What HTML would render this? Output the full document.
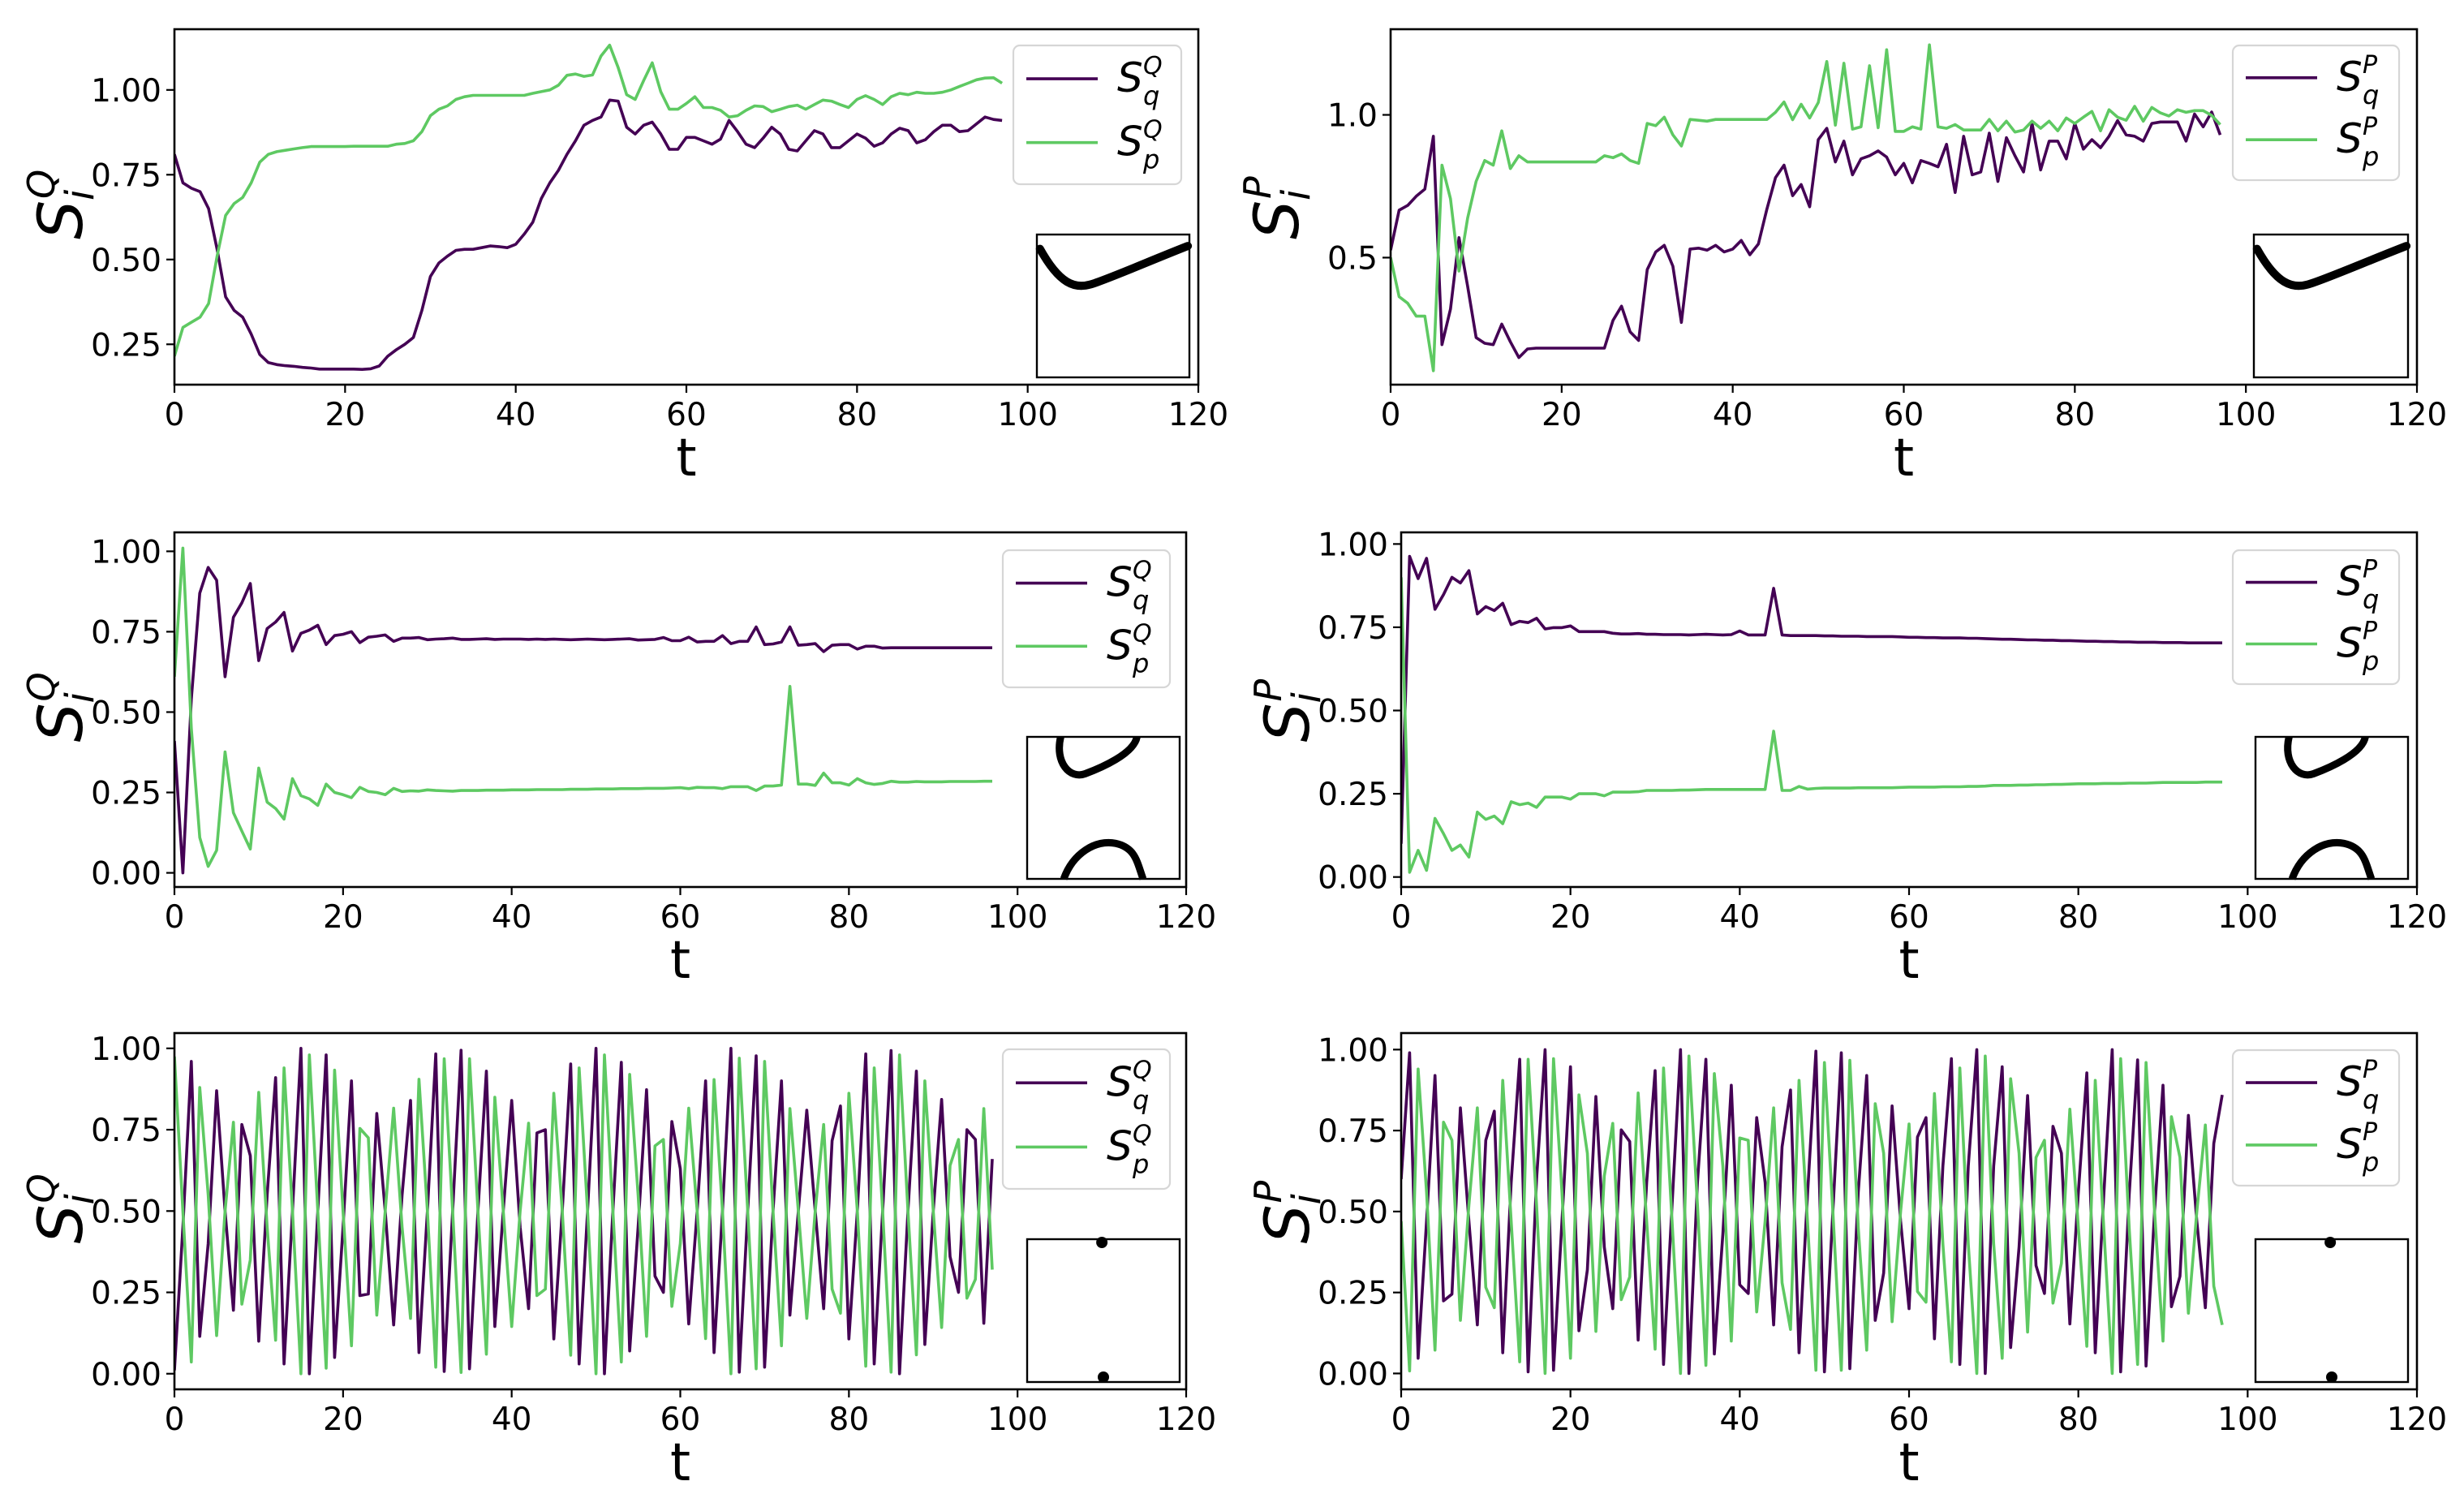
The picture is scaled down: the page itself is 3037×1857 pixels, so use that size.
<!DOCTYPE html>
<html><head><meta charset="utf-8"><style>
html,body{margin:0;padding:0;background:#fff;}
svg{display:block;font-family:"DejaVu Sans","Liberation Sans",sans-serif;}
</style></head><body>
<svg id="fig" width="3037" height="1857" viewBox="0 0 3037 1857" xmlns="http://www.w3.org/2000/svg"></svg>
<script>
// ---- data (t = index 0..97) ----
const xTicks = [0,20,40,60,80,100,120];
const ticksQtop = [0.25,0.50,0.75,1.00];
const ticksPtop = [0.5,1.0];
const ticksUnit = [0.00,0.25,0.50,0.75,1.00];

const tlSq = [0.81,0.726,0.71,0.70,0.65,0.53,0.39,0.35,0.33,0.28,0.22,0.196,0.19,0.187,0.185,0.182,0.18,0.177,0.177,0.177,0.177,0.177,0.176,0.178,0.186,0.215,0.234,0.25,0.27,0.35,0.45,0.49,0.51,0.527,0.53,0.53,0.535,0.54,0.538,0.535,0.545,0.575,0.61,0.68,0.726,0.763,0.81,0.85,0.896,0.91,0.92,0.97,0.967,0.89,0.87,0.896,0.905,0.87,0.825,0.825,0.86,0.86,0.85,0.84,0.855,0.91,0.877,0.84,0.83,0.858,0.89,0.87,0.825,0.82,0.85,0.88,0.87,0.83,0.83,0.85,0.87,0.858,0.834,0.844,0.87,0.887,0.88,0.844,0.853,0.877,0.896,0.896,0.877,0.88,0.9,0.92,0.913,0.91];
const tlSp = [0.215,0.30,0.315,0.33,0.37,0.51,0.63,0.665,0.683,0.726,0.787,0.81,0.818,0.822,0.826,0.83,0.833,0.833,0.833,0.833,0.833,0.834,0.834,0.834,0.834,0.834,0.84,0.842,0.85,0.877,0.924,0.943,0.953,0.972,0.98,0.984,0.984,0.984,0.984,0.984,0.984,0.984,0.99,0.995,1.0,1.014,1.043,1.047,1.04,1.044,1.1,1.132,1.066,0.986,0.972,1.028,1.08,0.995,0.943,0.943,0.96,0.98,0.948,0.948,0.94,0.92,0.924,0.94,0.953,0.951,0.936,0.943,0.951,0.955,0.943,0.957,0.97,0.967,0.957,0.948,0.972,0.983,0.972,0.957,0.98,0.99,0.986,0.993,0.99,0.99,0.993,1.0,1.01,1.02,1.03,1.035,1.036,1.02];

const trSq = [0.526,0.666,0.683,0.715,0.74,0.925,0.195,0.32,0.57,0.4,0.22,0.2,0.195,0.267,0.205,0.15,0.18,0.183,0.183,0.183,0.183,0.183,0.183,0.183,0.183,0.183,0.28,0.33,0.24,0.21,0.458,0.52,0.543,0.47,0.273,0.53,0.533,0.526,0.543,0.52,0.53,0.56,0.51,0.548,0.67,0.78,0.824,0.717,0.756,0.678,0.913,0.953,0.835,0.908,0.79,0.846,0.857,0.874,0.852,0.79,0.83,0.762,0.84,0.83,0.818,0.897,0.728,0.925,0.79,0.8,0.936,0.767,0.92,0.857,0.8,0.97,0.807,0.908,0.908,0.846,0.97,0.88,0.913,0.885,0.925,0.98,0.93,0.925,0.908,0.97,0.975,0.975,0.975,0.908,1.003,0.958,1.01,0.93];
const trSp = [0.5,0.363,0.34,0.295,0.295,0.104,0.824,0.706,0.453,0.638,0.767,0.84,0.824,0.944,0.812,0.857,0.835,0.835,0.835,0.835,0.835,0.835,0.835,0.835,0.835,0.857,0.85,0.863,0.84,0.83,0.97,0.962,0.992,0.93,0.891,0.984,0.981,0.978,0.984,0.984,0.984,0.984,0.984,0.984,0.984,1.009,1.045,0.983,1.037,0.989,1.043,1.187,0.964,1.181,0.95,0.958,1.172,0.955,1.228,0.942,0.942,0.958,0.95,1.245,0.958,0.953,0.966,0.947,0.947,0.947,0.984,0.944,0.978,0.94,0.947,0.978,0.953,0.978,0.944,0.989,0.97,0.992,1.012,0.944,1.018,0.992,0.981,1.03,0.978,1.026,1.007,0.996,1.018,1.009,1.015,1.015,0.998,0.966];

const mlSq = [0.41,0.0,0.54,0.87,0.95,0.91,0.61,0.795,0.84,0.9,0.66,0.76,0.78,0.81,0.69,0.745,0.755,0.77,0.71,0.738,0.742,0.75,0.716,0.733,0.736,0.74,0.72,0.73,0.73,0.732,0.725,0.727,0.728,0.73,0.726,0.726,0.727,0.728,0.726,0.727,0.727,0.727,0.726,0.727,0.726,0.727,0.726,0.725,0.726,0.727,0.726,0.725,0.726,0.727,0.728,0.724,0.725,0.726,0.732,0.722,0.722,0.733,0.718,0.72,0.72,0.738,0.713,0.72,0.72,0.765,0.71,0.712,0.718,0.765,0.708,0.71,0.713,0.688,0.708,0.71,0.71,0.696,0.705,0.705,0.699,0.70,0.70,0.70,0.70,0.70,0.70,0.70,0.70,0.70,0.70,0.70,0.70,0.70];
const mlSp = [0.61,1.01,0.45,0.11,0.02,0.07,0.376,0.187,0.13,0.074,0.326,0.22,0.2,0.167,0.293,0.24,0.23,0.21,0.276,0.25,0.243,0.234,0.266,0.253,0.25,0.243,0.263,0.253,0.255,0.254,0.258,0.256,0.255,0.254,0.256,0.256,0.256,0.257,0.257,0.257,0.258,0.258,0.258,0.259,0.259,0.259,0.259,0.26,0.26,0.26,0.261,0.261,0.261,0.262,0.262,0.262,0.263,0.263,0.263,0.264,0.265,0.262,0.266,0.265,0.265,0.262,0.268,0.268,0.268,0.256,0.27,0.27,0.273,0.58,0.276,0.276,0.272,0.31,0.28,0.28,0.273,0.293,0.28,0.275,0.278,0.285,0.282,0.282,0.284,0.283,0.283,0.283,0.284,0.284,0.284,0.284,0.285,0.285];

const mrSq = [0.1,0.963,0.896,0.957,0.804,0.848,0.9,0.883,0.92,0.79,0.812,0.8,0.822,0.758,0.768,0.764,0.777,0.745,0.749,0.749,0.754,0.737,0.737,0.737,0.737,0.732,0.73,0.73,0.731,0.729,0.729,0.728,0.728,0.728,0.727,0.728,0.729,0.728,0.727,0.728,0.739,0.727,0.727,0.727,0.867,0.727,0.725,0.725,0.725,0.725,0.724,0.724,0.723,0.723,0.723,0.722,0.722,0.722,0.722,0.721,0.72,0.72,0.719,0.719,0.718,0.718,0.718,0.717,0.717,0.716,0.715,0.714,0.714,0.713,0.712,0.712,0.711,0.711,0.71,0.71,0.709,0.708,0.708,0.707,0.707,0.706,0.706,0.705,0.705,0.705,0.704,0.704,0.704,0.703,0.703,0.703,0.703,0.703];
const mrSp = [0.9,0.014,0.08,0.02,0.176,0.13,0.08,0.096,0.06,0.195,0.173,0.183,0.16,0.226,0.217,0.222,0.209,0.24,0.24,0.24,0.234,0.25,0.25,0.25,0.244,0.255,0.255,0.255,0.256,0.26,0.26,0.26,0.26,0.261,0.261,0.262,0.263,0.263,0.263,0.263,0.263,0.263,0.263,0.263,0.438,0.26,0.26,0.272,0.264,0.266,0.267,0.267,0.267,0.267,0.268,0.268,0.268,0.268,0.268,0.269,0.27,0.27,0.27,0.27,0.271,0.271,0.271,0.272,0.272,0.273,0.275,0.275,0.275,0.276,0.276,0.277,0.277,0.278,0.278,0.279,0.28,0.28,0.28,0.281,0.281,0.281,0.282,0.282,0.282,0.283,0.284,0.284,0.284,0.284,0.284,0.285,0.285,0.285];

const blSq = [0.01,0.45,0.96,0.115,0.4,0.87,0.5,0.195,0.766,0.67,0.10,0.55,0.91,0.03,0.5,1.0,0.0,0.5,0.98,0.05,0.45,0.9,0.24,0.245,0.80,0.5,0.15,0.55,0.84,0.065,0.5,0.983,0.007,0.5,0.994,0.015,0.5,0.93,0.145,0.5,0.84,0.45,0.2,0.74,0.75,0.107,0.5,0.952,0.03,0.5,1.0,0.0,0.5,0.957,0.07,0.45,0.873,0.3,0.25,0.775,0.63,0.153,0.5,0.9,0.065,0.5,1.0,0.005,0.5,0.977,0.02,0.5,0.9,0.18,0.5,0.81,0.5,0.2,0.716,0.823,0.107,0.5,0.983,0.03,0.5,0.993,0.0,0.5,0.93,0.09,0.5,0.843,0.36,0.25,0.75,0.72,0.155,0.66];
const blSp = [0.975,0.5,0.036,0.88,0.55,0.117,0.5,0.773,0.214,0.35,0.865,0.45,0.103,0.94,0.5,0.0,0.98,0.5,0.017,0.933,0.5,0.086,0.754,0.725,0.18,0.5,0.816,0.45,0.17,0.905,0.5,0.02,0.968,0.5,0.004,0.968,0.5,0.06,0.85,0.5,0.145,0.5,0.77,0.24,0.26,0.862,0.5,0.057,0.94,0.5,0.0,0.98,0.5,0.036,0.92,0.55,0.115,0.7,0.72,0.207,0.4,0.816,0.5,0.108,0.904,0.5,0.0,0.97,0.5,0.015,0.96,0.5,0.086,0.815,0.5,0.17,0.5,0.766,0.26,0.186,0.862,0.5,0.023,0.94,0.5,0.005,0.98,0.5,0.058,0.9,0.5,0.142,0.64,0.72,0.232,0.29,0.815,0.32];

const brSq = [0.6,0.99,0.047,0.47,0.92,0.224,0.245,0.82,0.47,0.15,0.72,0.81,0.064,0.59,0.97,0.005,0.6,1.0,0.01,0.47,0.947,0.132,0.32,0.855,0.39,0.2,0.752,0.716,0.103,0.59,0.935,0.028,0.52,1.0,0.0,0.59,0.97,0.06,0.43,0.89,0.274,0.247,0.79,0.59,0.15,0.70,0.875,0.064,0.55,0.995,0.005,0.5,0.99,0.015,0.56,0.92,0.164,0.31,0.826,0.47,0.2,0.73,0.79,0.107,0.64,0.972,0.028,0.64,1.0,0.0,0.64,0.947,0.08,0.39,0.858,0.333,0.247,0.763,0.68,0.153,0.56,0.928,0.064,0.55,1.0,0.005,0.55,0.968,0.023,0.5,0.89,0.206,0.3,0.797,0.47,0.203,0.71,0.86];
const brSp = [0.47,0.008,0.94,0.56,0.072,0.776,0.72,0.164,0.52,0.82,0.266,0.203,0.905,0.47,0.036,0.97,0.52,0.0,0.972,0.56,0.047,0.86,0.68,0.13,0.61,0.772,0.228,0.298,0.866,0.47,0.075,0.943,0.47,0.0,0.98,0.52,0.025,0.926,0.64,0.1,0.727,0.72,0.19,0.47,0.82,0.28,0.136,0.905,0.47,0.01,0.96,0.5,0.01,0.967,0.45,0.072,0.833,0.68,0.16,0.5,0.77,0.253,0.22,0.864,0.4,0.036,0.943,0.4,0.0,0.98,0.4,0.047,0.91,0.68,0.128,0.667,0.72,0.217,0.34,0.816,0.45,0.084,0.905,0.45,0.0,0.972,0.45,0.028,0.96,0.5,0.1,0.793,0.667,0.186,0.5,0.767,0.27,0.15];

// ---- drawing ----
const NS = 'http://www.w3.org/2000/svg';
const fig = document.getElementById('fig');
const PURPLE = '#440154', GREEN = '#5ec962';
function mk(tag, attrs, parent){
  const e = document.createElementNS(NS, tag);
  for (const k in attrs) e.setAttribute(k, attrs[k]);
  (parent||fig).appendChild(e);
  return e;
}
const panels = [
  {id:'top-left', x0:215,x1:1477,y0:36,y1:474, ymin:0.131,ymax:1.179, ticks:ticksQtop, dec:2, sup:'Q', q:tlSq, p:tlSp, leg:[1249,56,1456,227], inset:[1278,289,1466,465], kind:'curve'},
  {id:'top-right', x0:1714,x1:2979,y0:36,y1:474, ymin:0.055,ymax:1.300, ticks:ticksPtop, dec:1, sup:'P', q:trSq, p:trSp, leg:[2752,56,2957,222], inset:[2778,289,2968,465], kind:'curve'},
  {id:'middle-left', x0:215,x1:1462,y0:656,y1:1093, ymin:-0.044,ymax:1.059, ticks:ticksUnit, dec:2, sup:'Q', q:mlSq, p:mlSp, leg:[1236,678,1442,847], inset:[1266,908,1454,1083], kind:'arcs'},
  {id:'middle-right', x0:1727,x1:2979,y0:656,y1:1093, ymin:-0.030,ymax:1.035, ticks:ticksUnit, dec:2, sup:'P', q:mrSq, p:mrSp, leg:[2752,678,2957,843], inset:[2780,908,2968,1083], kind:'arcs'},
  {id:'bottom-left', x0:215,x1:1462,y0:1273,y1:1712, ymin:-0.048,ymax:1.047, ticks:ticksUnit, dec:2, sup:'Q', q:blSq, p:blSp, leg:[1236,1293,1442,1465], inset:[1266,1527,1454,1703], kind:'dots'},
  {id:'bottom-right', x0:1727,x1:2979,y0:1273,y1:1712, ymin:-0.049,ymax:1.051, ticks:ticksUnit, dec:2, sup:'P', q:brSq, p:brSp, leg:[2752,1294,2957,1461], inset:[2780,1527,2968,1703], kind:'dots'}
];

function drawPanel(P){
  const g = mk('g', {});
  
  
  const sx = t => P.x0 + (t/120)*(P.x1-P.x0);
  const sy = v => P.y1 - (v-P.ymin)/(P.ymax-P.ymin)*(P.y1-P.y0);
  const cid = 'clip-' + P.id;
  const cp = mk('clipPath', {id:cid}, g);
  mk('rect', {x:P.x0, y:P.y0, width:P.x1-P.x0, height:P.y1-P.y0}, cp);
  [[P.q, PURPLE, 'sq'], [P.p, GREEN, 'sp']].forEach(([arr, col, nm]) => {
    const d = arr.map((v,i) => (i?'L':'M') + sx(i).toFixed(1) + ' ' + sy(v).toFixed(1)).join(' ');
    const path = mk('path', {d:d, fill:'none', stroke:col, 'stroke-width':3.6, 'stroke-linejoin':'round', 'clip-path':'url(#'+cid+')'}, g);
    
    
  });
  const fr = mk('rect', {x:P.x0, y:P.y0, width:P.x1-P.x0, height:P.y1-P.y0, fill:'none', stroke:'#000', 'stroke-width':2.6}, g);
  
  
  xTicks.forEach(t => {
    const x = sx(t);
    mk('line', {x1:x, y1:P.y1, x2:x, y2:P.y1+10, stroke:'#000', 'stroke-width':2.2}, g);
    const tx = mk('text', {x:x, y:P.y1+50, 'font-size':39, 'text-anchor':'middle', fill:'#000'}, g);
    tx.textContent = String(t);
    
    
  });
  P.ticks.forEach(v => {
    const y = sy(v);
    mk('line', {x1:P.x0-10, y1:y, x2:P.x0, y2:y, stroke:'#000', 'stroke-width':2.2}, g);
    const ty = mk('text', {x:P.x0-16, y:y+14, 'font-size':39, 'text-anchor':'end', fill:'#000'}, g);
    ty.textContent = v.toFixed(P.dec);
    
    
  });
  const xl = mk('text', {x:(P.x0+P.x1)/2, y:P.y1+112, 'font-size':64, 'text-anchor':'middle', fill:'#000'}, g);
  xl.textContent = 't';
  
  
  const cy = (P.y0+P.y1)/2;
  const lx = P.x0 - 140;
  const yl = mk('g', {transform:'translate('+lx+','+cy+') rotate(-90)'}, g);
  
  
  const s1 = mk('text', {x:-40, y:26, 'font-size':76, 'font-style':'italic', fill:'#000'}, yl); s1.textContent='S';
  const s2 = mk('text', {x:8, y:40, 'font-size':48, 'font-style':'italic', fill:'#000'}, yl); s2.textContent='i';
  const s3 = mk('text', {x:10, y:-8, 'font-size':46, 'font-style':'italic', fill:'#000'}, yl); s3.textContent=P.sup;
  const [lx0,ly0,lx1,ly1] = P.leg;
  const lg = mk('g', {}, g);
  
  
  mk('rect', {x:lx0, y:ly0, width:lx1-lx0, height:ly1-ly0, rx:8, fill:'#fff', 'fill-opacity':0.85, stroke:'#d6d6d6', 'stroke-width':2.2}, lg);
  [['q', PURPLE, 0.24], ['p', GREEN, 0.70]].forEach(([sub, col, f]) => {
    const yy = ly0 + f*(ly1-ly0);
    const e = mk('g', {}, lg);
    
    
    mk('line', {x1:lx0+16, y1:yy, x2:lx0+104, y2:yy, stroke:col, 'stroke-width':3.6}, e);
    const a = mk('text', {x:lx0+128, y:yy+16, 'font-size':50, 'font-style':'italic', fill:'#000'}, e); a.textContent='S';
    const b = mk('text', {x:lx0+160, y:yy+32, 'font-size':32, 'font-style':'italic', fill:'#000'}, e); b.textContent=sub;
    const c = mk('text', {x:lx0+160, y:yy-6, 'font-size':30, 'font-style':'italic', fill:'#000'}, e); c.textContent=P.sup;
  });
  const [ix0,iy0,ix1,iy1] = P.inset;
  const ig = mk('g', {}, g);
  
  
  mk('rect', {x:ix0, y:iy0, width:ix1-ix0, height:iy1-iy0, fill:'#fff', stroke:'#000', 'stroke-width':2.4}, ig);
  const W = ix1-ix0, H = iy1-iy0;
  const px = f => ix0 + f*W, py = f => iy0 + f*H;
  if (P.kind === 'curve') {
    mk('path', {d:'M'+px(0.02)+' '+py(0.10)+' C'+px(0.15)+' '+py(0.35)+' '+px(0.25)+' '+py(0.38)+' '+px(0.35)+' '+py(0.35)+' S'+px(0.75)+' '+py(0.18)+' '+px(0.99)+' '+py(0.08), fill:'none', stroke:'#000', 'stroke-width':10, 'stroke-linecap':'round'}, ig);
  } else if (P.kind === 'arcs') {
    mk('path', {d:'M'+px(0.22)+' '+py(0.0)+' C'+px(0.18)+' '+py(0.18)+' '+px(0.28)+' '+py(0.30)+' '+px(0.38)+' '+py(0.26)+' S'+px(0.70)+' '+py(0.12)+' '+px(0.72)+' '+py(0.0), fill:'none', stroke:'#000', 'stroke-width':9}, ig);
    mk('path', {d:'M'+px(0.24)+' '+py(1.0)+' C'+px(0.30)+' '+py(0.82)+' '+px(0.45)+' '+py(0.72)+' '+px(0.58)+' '+py(0.75)+' S'+px(0.72)+' '+py(0.88)+' '+px(0.76)+' '+py(1.0), fill:'none', stroke:'#000', 'stroke-width':9}, ig);
  } else {
    mk('circle', {cx:px(0.49), cy:iy0+4, r:7, fill:'#000'}, ig);
    mk('circle', {cx:px(0.50), cy:iy1-6, r:7, fill:'#000'}, ig);
  }
}
panels.forEach(drawPanel);
</script>
</body></html>
